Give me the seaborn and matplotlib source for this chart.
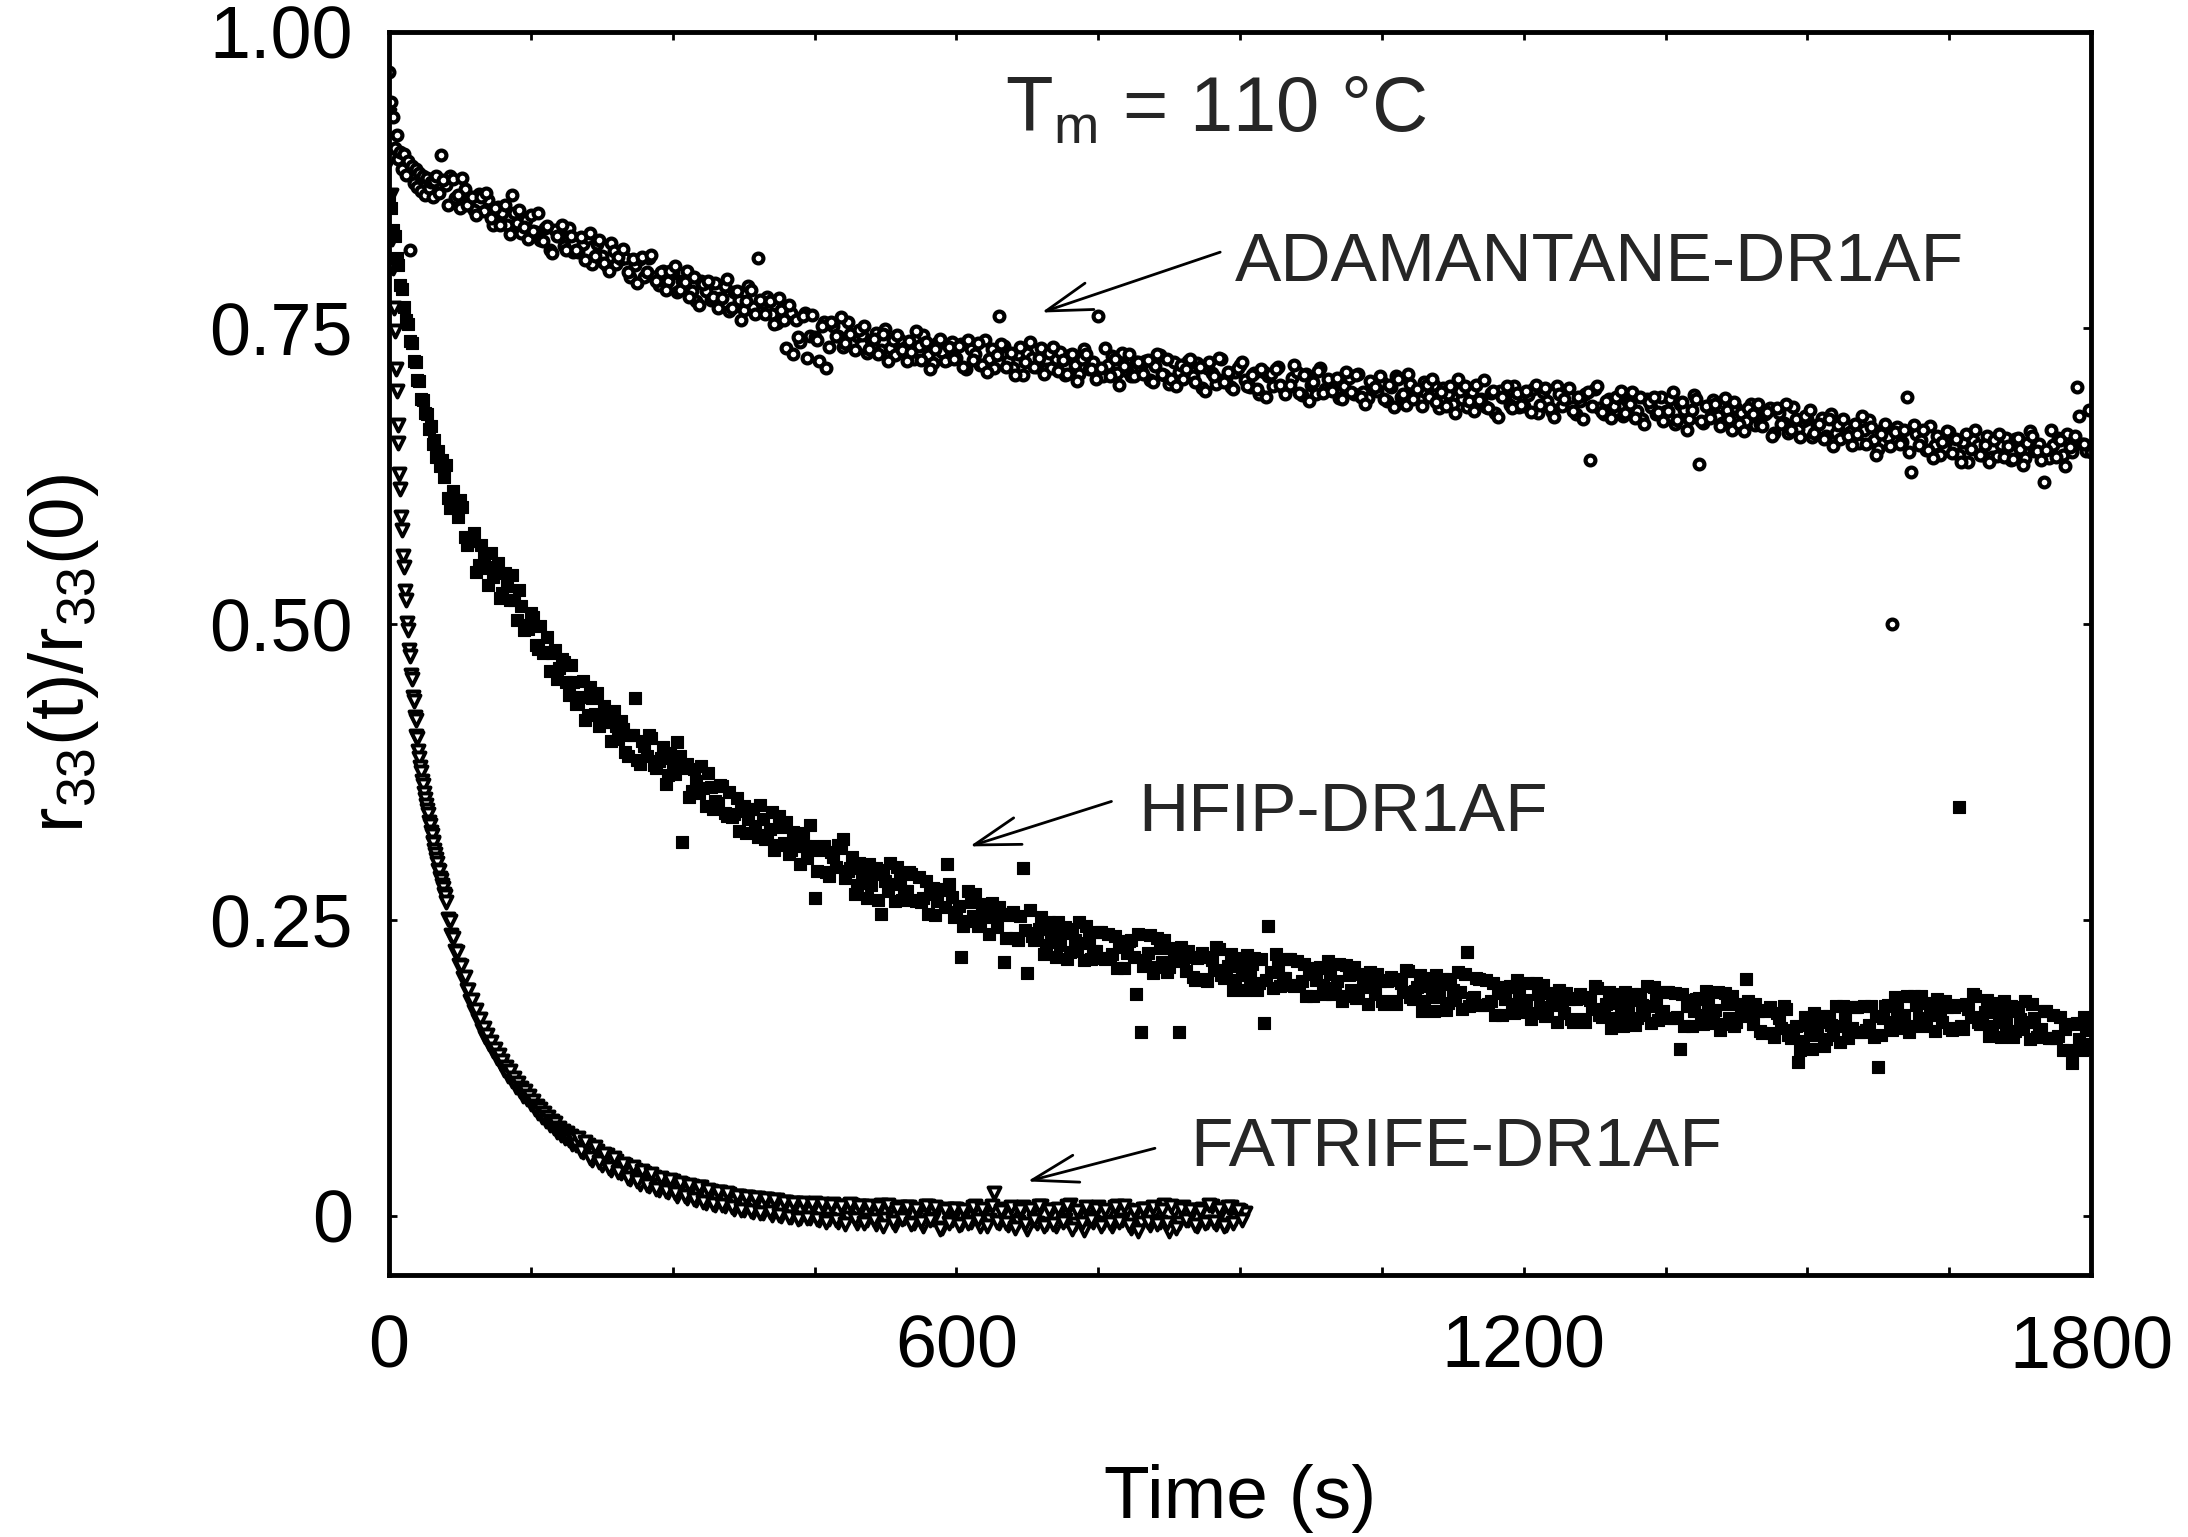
import numpy as np
import pandas as pd
import matplotlib
matplotlib.use("Agg")
import matplotlib.pyplot as plt
import matplotlib.ticker as mticker
import seaborn as sns

# --- Data: r33(t)/r33(0) versus time (s) ---
# ADAMANTANE-DR1AF (open circles)
ADAM_EARLY = [  # t = 0, 2, ..., 48 s
    .966, .941, .928, .902, .913, .893, .899, .884, .897, .879,
    .891, .816, .887, .872, .884, .869, .881, .866, .878, .862,
    .877, .868, .873, .861, .874,
]
ADAM_LATE = [  # t = 50, 55, ..., 1800 s
    .878, .896, .871, .878, .860, .851, .867, .858, .850, .863,
    .849, .858, .837, .852, .847, .837, .862, .839, .830, .841,
    .845, .831, .824, .834, .816, .833, .828, .819, .834, .814,
    .814, .821, .826, .804, .821, .811, .802, .822, .804, .808,
    .809, .793, .803, .808, .793, .809, .793, .786, .798, .790,
    .796, .780, .790, .798, .781, .773, .790, .781, .774, .788,
    .775, .785, .764, .780, .774, .765, .785, .768, .809, .771,
    .776, .762, .754, .765, .733, .763, .757, .738, .763, .743,
    .742, .722, .755, .734, .752, .743, .734, .755, .738, .743,
    .744, .729, .740, .746, .731, .749, .733, .727, .740, .733,
    .739, .724, .735, .744, .727, .720, .737, .730, .723, .738,
    .725, .736, .715, .732, .728, .719, .740, .724, .716, .760,
    .735, .722, .716, .728, .710, .729, .725, .717, .733, .715,
    .716, .724, .730, .710, .727, .719, .711, .732, .715, .721,
    .760, .709, .719, .726, .712, .729, .714, .709, .721, .715,
    .722, .706, .718, .727, .710, .703, .721, .713, .707, .722,
    .709, .720, .699, .716, .712, .703, .724, .708, .700, .713,
    .719, .706, .700, .712, .694, .713, .709, .701, .717, .699,
    .699, .708, .713, .693, .711, .702, .694, .716, .698, .704,
    .705, .691, .701, .708, .694, .711, .696, .691, .703, .697,
    .704, .688, .700, .709, .692, .685, .703, .695, .689, .704,
    .692, .702, .682, .699, .694, .686, .707, .690, .683, .696,
    .702, .690, .683, .695, .678, .697, .692, .685, .701, .683,
    .684, .693, .698, .678, .696, .688, .679, .701, .684, .690,
    .692, .677, .688, .694, .638, .698, .682, .677, .690, .684,
    .691, .676, .687, .696, .680, .673, .690, .683, .677, .692,
    .680, .690, .669, .686, .681, .673, .693, .635, .670, .683,
    .689, .676, .670, .681, .664, .682, .678, .671, .686, .668,
    .669, .677, .682, .661, .678, .670, .661, .683, .665, .671,
    .673, .658, .668, .674, .659, .677, .661, .656, .668, .662,
    .669, .653, .664, .672, .655, .648, .665, .658, .500, .666,
    .654, .692, .628, .660, .655, .647, .667, .651, .643, .656,
    .662, .649, .643, .654, .637, .655, .651, .643, .659, .641,
    .642, .651, .657, .638, .656, .648, .640, .663, .646, .652,
    .620, .640, .651, .657, .643, .660, .645, .700, .652, .646,
    .645,
]
ADAM_LATE_B = [  # t = 52.5, 57.5, ..., 1797.5 s
    .864, .875, .854, .876, .862, .877, .854, .861, .845, .861,
    .864, .843, .851, .837, .854, .829, .847, .850, .835, .825,
    .832, .847, .823, .836, .813, .828, .837, .816, .828, .816,
    .827, .807, .830, .811, .824, .805, .798, .815, .810, .817,
    .797, .808, .788, .810, .797, .812, .790, .797, .782, .798,
    .802, .782, .789, .776, .793, .769, .787, .790, .776, .767,
    .775, .791, .767, .781, .757, .773, .782, .762, .774, .762,
    .773, .753, .775, .757, .769, .728, .742, .760, .725, .761,
    .740, .752, .716, .755, .743, .759, .737, .745, .731, .748,
    .752, .732, .741, .728, .745, .722, .740, .744, .731, .722,
    .730, .747, .723, .738, .715, .732, .741, .722, .734, .724,
    .735, .717, .740, .723, .737, .719, .713, .732, .727, .736,
    .717, .729, .710, .734, .721, .738, .717, .725, .711, .729,
    .734, .714, .723, .711, .728, .705, .724, .728, .715, .707,
    .716, .733, .709, .724, .702, .718, .728, .709, .721, .711,
    .723, .704, .728, .711, .724, .707, .701, .719, .715, .724,
    .704, .717, .697, .721, .709, .725, .704, .713, .698, .716,
    .721, .701, .710, .698, .715, .692, .711, .715, .702, .694,
    .702, .719, .695, .710, .688, .704, .714, .695, .707, .697,
    .708, .690, .713, .696, .710, .692, .686, .705, .700, .709,
    .690, .702, .683, .707, .694, .711, .690, .698, .684, .702,
    .707, .687, .696, .684, .701, .678, .697, .701, .688, .680,
    .689, .706, .682, .697, .675, .692, .701, .682, .695, .685,
    .697, .679, .702, .685, .699, .682, .675, .694, .690, .699,
    .680, .692, .673, .696, .684, .701, .679, .688, .674, .692,
    .697, .678, .686, .674, .692, .669, .687, .692, .679, .671,
    .680, .696, .672, .687, .664, .681, .690, .671, .684, .674,
    .686, .667, .691, .673, .687, .669, .663, .682, .677, .686,
    .667, .679, .659, .682, .669, .686, .664, .673, .658, .676,
    .681, .661, .669, .656, .673, .650, .668, .673, .659, .651,
    .660, .676, .652, .666, .643, .660, .669, .650, .662, .652,
    .664, .645, .668, .651, .664, .647, .640, .659, .654, .663,
    .644, .656, .637, .660, .648, .664, .643, .651, .637, .655,
    .660, .641, .650, .639, .657, .634, .653, .659, .646, .638,
    .647, .664, .641, .655, .633, .649, .659, .676, .652, .681,
]

# HFIP-DR1AF (filled squares)
HFIP_EARLY = [  # t = 0, 2, ..., 58 s
    .862, .851, .833, .828, .809, .803, .786, .783, .768, .757,
    .753, .739, .737, .722, .721, .706, .705, .690, .689, .678,
    .677, .665, .667, .652, .655, .641, .646, .633, .638, .624,
]
HFIP_LATE = [  # t = 60, 65, ..., 1800 s
    .634, .598, .602, .605, .573, .570, .577, .550, .558, .533,
    .540, .551, .526, .532, .541, .503, .515, .499, .509, .482,
    .498, .476, .460, .478, .463, .468, .440, .451, .434, .452,
    .423, .437, .442, .417, .424, .401, .414, .418, .392, .406,
    .437, .382, .397, .406, .381, .384, .396, .372, .383, .400,
    .316, .382, .359, .367, .380, .346, .362, .350, .364, .340,
    .358, .339, .325, .346, .335, .344, .320, .335, .322, .341,
    .313, .328, .333, .309, .318, .297, .312, .330, .268, .309,
    .312, .287, .303, .313, .318, .291, .303, .279, .290, .268,
    .279, .294, .255, .283, .298, .266, .284, .274, .290, .267,
    .286, .268, .255, .277, .266, .276, .297, .269, .257, .219,
    .249, .265, .272, .248, .258, .238, .254, .261, .214, .254,
    .257, .233, .294, .205, .236, .239, .252, .229, .240, .219,
    .229, .244, .223, .233, .248, .216, .234, .224, .240, .218,
    .238, .221, .209, .232, .222, .233, .187, .155, .216, .237,
    .210, .226, .233, .210, .221, .155, .217, .224, .202, .218,
    .222, .198, .216, .227, .203, .208, .221, .199, .211, .191,
    .202, .218, .197, .163, .245, .192, .210, .201, .217, .195,
    .215, .198, .186, .209, .199, .210, .187, .204, .192, .213,
    .186, .203, .210, .188, .199, .179, .196, .204, .181, .198,
    .202, .179, .197, .208, .185, .190, .203, .181, .194, .173,
    .185, .200, .180, .191, .206, .175, .223, .184, .201, .178,
    .199, .181, .170, .193, .183, .194, .171, .188, .177, .197,
    .171, .187, .195, .173, .183, .164, .181, .188, .166, .183,
    .187, .164, .182, .194, .170, .175, .189, .167, .180, .160,
    .171, .187, .167, .178, .194, .163, .182, .172, .189, .167,
    .188, .141, .160, .182, .173, .184, .162, .179, .168, .189,
    .162, .179, .186, .164, .174, .200, .171, .179, .156, .173,
    .176, .151, .167, .177, .153, .157, .130, .148, .161, .141,
    .153, .169, .149, .161, .177, .147, .166, .158, .176, .155,
    .177, .161, .151, .126, .167, .178, .157, .175, .164, .186,
    .160, .178, .186, .164, .175, .156, .173, .181, .159, .176,
    .345, .158, .175, .187, .164, .168, .182, .160, .172, .151,
    .162, .177, .156, .166, .181, .149, .167, .157, .173, .150,
    .170, .152, .140, .162, .129, .163, .140, .157, .145,
]
HFIP_LATE_B = [  # t = 62.5, 67.5, ..., 1797.5 s
    .606, .612, .590, .599, .567, .570, .544, .567, .547, .560,
    .548, .522, .543, .520, .520, .529, .495, .496, .506, .479,
    .475, .489, .475, .453, .470, .451, .465, .432, .438, .419,
    .447, .424, .414, .431, .417, .426, .403, .411, .388, .406,
    .385, .401, .388, .404, .378, .387, .365, .391, .373, .388,
    .378, .354, .377, .357, .361, .374, .344, .349, .363, .338,
    .337, .353, .342, .323, .344, .329, .347, .318, .327, .309,
    .338, .315, .306, .324, .312, .323, .302, .312, .291, .310,
    .290, .307, .295, .311, .285, .294, .272, .298, .281, .297,
    .289, .267, .292, .274, .280, .295, .267, .274, .289, .266,
    .265, .283, .272, .254, .275, .261, .280, .252, .262, .245,
    .274, .253, .245, .263, .252, .264, .244, .255, .235, .255,
    .235, .253, .241, .258, .233, .242, .221, .248, .231, .248,
    .239, .217, .242, .224, .230, .245, .217, .224, .240, .217,
    .218, .236, .227, .209, .232, .219, .238, .211, .222, .205,
    .235, .214, .206, .226, .215, .227, .207, .219, .199, .219,
    .200, .219, .208, .225, .201, .211, .191, .218, .203, .220,
    .213, .191, .217, .199, .206, .221, .194, .201, .217, .194,
    .195, .213, .204, .186, .209, .195, .215, .187, .198, .181,
    .212, .191, .184, .204, .193, .206, .187, .198, .179, .199,
    .181, .200, .189, .207, .183, .193, .173, .201, .185, .203,
    .196, .174, .200, .182, .189, .204, .177, .185, .200, .178,
    .179, .197, .188, .170, .193, .179, .199, .172, .182, .166,
    .197, .176, .169, .188, .178, .191, .171, .183, .164, .184,
    .166, .185, .175, .192, .168, .179, .159, .187, .171, .189,
    .182, .161, .187, .170, .177, .193, .165, .173, .189, .167,
    .168, .187, .177, .160, .183, .170, .190, .163, .174, .157,
    .188, .167, .160, .179, .169, .181, .162, .173, .154, .174,
    .154, .171, .159, .175, .150, .160, .140, .168, .153, .171,
    .164, .143, .169, .153, .160, .177, .150, .159, .176, .155,
    .157, .177, .169, .153, .177, .164, .185, .159, .170, .155,
    .186, .167, .160, .180, .170, .183, .164, .176, .157, .178,
    .160, .179, .168, .186, .162, .172, .152, .180, .164, .181,
    .173, .151, .176, .158, .164, .179, .151, .158, .173, .150,
    .150, .168, .158, .140, .162, .149, .168, .141,
]

# FATRIFE-DR1AF (open down triangles)
FATRIFE_EARLY = [  # t = 0, 1, ..., 59 s
    .930, .893, .862, .825, .801, .767, .747, .715, .697, .668,
    .653, .627, .614, .590, .579, .557, .548, .528, .520, .501,
    .495, .478, .473, .457, .453, .438, .435, .421, .419, .405,
    .404, .393, .387, .379, .375, .367, .364, .357, .352, .347,
    .343, .339, .333, .330, .324, .322, .316, .315, .309, .306,
    .301, .298, .292, .291, .285, .284, .279, .277, .272, .270,
]
FATRIFE_MID = [  # t = 60, 62, ..., 198 s
    .265, .251, .249, .237, .235, .224, .223, .212, .211, .201,
    .202, .191, .191, .181, .182, .173, .174, .165, .166, .157,
    .159, .151, .153, .145, .147, .139, .141, .133, .136, .128,
    .131, .123, .126, .118, .122, .114, .116, .109, .112, .105,
    .108, .101, .105, .099, .101, .094, .097, .090, .093, .087,
    .090, .083, .087, .080, .083, .077, .080, .074, .078, .071,
    .074, .068, .072, .066, .070, .064, .067, .061, .065, .060,
]
FATRIFE_LATE = [  # t = 200, 205, ..., 905 s
    .066, .054, .060, .047, .055, .043, .051, .039, .046, .036,
    .043, .031, .039, .027, .036, .025, .033, .022, .030, .020,
    .029, .017, .027, .015, .025, .013, .024, .011, .021, .009,
    .020, .008, .018, .006, .017, .005, .016, .003, .015, .002,
    .014, .001, .013, .000, .012, -.001, .011, -.002, .010, -.002,
    .011, -.004, .009, -.003, .010, -.005, .008, -.002, .009, -.006,
    .008, -.004, .007, -.007, .009, -.003, .006, -.008, .007, -.002,
    .007, -.006, .005, -.009, .008, -.003, .006, -.010, .006, -.004,
    .006, -.007, .004, -.005, .008, -.009, .005, -.004, .019, -.006,
    .006, -.008, .003, -.005, .007, -.011, .004, -.006, .008, -.007,
    .005, -.009, .004, -.004, .009, -.007, .003, -.012, .006, -.005,
    .007, -.006, .002, -.009, .008, -.004, .005, -.010, .004, -.006,
    .006, -.008, .003, -.005, .009, -.013, .004, -.006, .007, -.004,
    .005, -.009, .006, -.005, .008, -.007, .003, -.008, .007, -.003,
    .004, .002,
]
FATRIFE_LATE_B = [  # t = 202.5, 207.5, ..., 902.5 s
    .055, .062, .049, .058, .045, .052, .040, .049, .037, .044,
    .032, .041, .029, .038, .026, .035, .023, .032, .021, .030,
    .019, .028, .017, .026, .014, .024, .012, .022, .010, .020,
    .009, .019, .007, .017, .005, .016, .004, .015, .002, .014,
    .003, .013, .001, .012, -.001, .011, -.003, .011, -.002, .010,
    -.003, .010, -.005, .009, -.004, .008, -.007, .010, -.003, .008,
    -.006, .008, -.004, .007, -.009, .009, -.005, .006, -.003, .007,
    -.007, .006, -.005, .008, -.004, .007, -.011, .005, -.006, .006,
    -.008, .005, -.006, .007, -.004, .006, -.009, .008, -.005, .004,
    -.006, .007, -.010, .005, -.007, .006, -.004, .008, -.009, .005,
    -.007, .006, -.005, .008, -.011, .004, -.006, .007, -.004, .006,
    -.009, .005, -.006, .007, -.005, .008, -.008, .004, -.013, .006,
    -.005, .007, -.007, .005, -.006, .008, -.010, .006, -.004, .005,
    -.008, .004, -.006, .009, -.005, .006, -.009, .007, -.006, .005,
    -.004,
]


def build_series(name, segments):
    """segments: list of (start time, time step, values)."""
    parts = []
    for start, step, vals in segments:
        t = start + step * np.arange(len(vals))
        parts.append(pd.DataFrame({"time": t, "ratio": vals, "sample": name}))
    return pd.concat(parts, ignore_index=True)


adam = build_series("ADAMANTANE-DR1AF", [(0, 2, ADAM_EARLY), (50, 5, ADAM_LATE),
                                         (52.5, 5, ADAM_LATE_B)])
hfip = build_series("HFIP-DR1AF", [(0, 2, HFIP_EARLY), (60, 5, HFIP_LATE),
                                   (62.5, 5, HFIP_LATE_B)])
fatrife = build_series("FATRIFE-DR1AF", [(0, 1, FATRIFE_EARLY), (60, 2, FATRIFE_MID),
                                         (200, 5, FATRIFE_LATE),
                                         (202.5, 5, FATRIFE_LATE_B)])

# --- Style ---
sns.set_theme(style="ticks")
plt.rcParams["font.family"] = ["Liberation Sans", "DejaVu Sans"]
plt.rcParams["mathtext.fontset"] = "custom"
plt.rcParams["mathtext.rm"] = "Liberation Sans"
plt.rcParams["mathtext.it"] = "Liberation Sans:italic"
plt.rcParams["mathtext.default"] = "regular"

fig = plt.figure(figsize=(21.88, 15.37), dpi=100)
ax = fig.add_axes([0.1778, 0.1705, 0.7779, 0.8087])

sns.scatterplot(data=fatrife, x="time", y="ratio", ax=ax, marker="v", s=75,
                color="white", edgecolor="black", linewidth=2.8, legend=False)
sns.scatterplot(data=hfip, x="time", y="ratio", ax=ax, marker="s", s=85,
                color="black", edgecolor="black", linewidth=0.8, legend=False)
sns.scatterplot(data=adam, x="time", y="ratio", ax=ax, marker="o", s=50,
                color="white", edgecolor="black", linewidth=3.0, legend=False)

ax.set_xlim(0, 1800)
ax.set_ylim(-0.05, 1.0)
ax.set_xticks([0, 600, 1200, 1800])
ax.xaxis.set_minor_locator(mticker.MultipleLocator(150))
ax.set_yticks([0, 0.25, 0.5, 0.75, 1.0])
ax.set_yticklabels(["0", "0.25", "0.50", "0.75", "1.00"])

ax.tick_params(which="both", direction="in", top=True, right=True,
               length=6, width=2, color="black", labelsize=53, labelcolor="black")
ax.tick_params(axis="x", which="both", pad=28)
ax.tick_params(axis="y", which="both", pad=26)
for side in ax.spines.values():
    side.set_visible(True)
    side.set_linewidth(3.5)
    side.set_color("black")

ax.set_xlabel("Time (s)", fontsize=54, color="black")
ax.xaxis.set_label_coords(0.5, -0.152)
ax.set_ylabel(r"r$_{33}$(t)/r$_{33}$(0)", fontsize=55, color="black")
ax.yaxis.set_label_coords(-0.169, 0.5)

# --- Annotations ---
ax.text(651, 0.916, r"T$_{m}$ = 110 °C", fontsize=56, ha="left", va="baseline")

arrow = dict(arrowstyle="->, head_length=0.66, head_width=0.2", color="black",
             lw=2, shrinkA=0, shrinkB=0, mutation_scale=50)
labels = [
    ("ADAMANTANE-DR1AF", (690, 0.763), (879, 0.814), (894, 0.805)),
    ("HFIP-DR1AF", (614, 0.312), (764, 0.350), (792, 0.340)),
    ("FATRIFE-DR1AF", (675, 0.029), (810, 0.057), (847, 0.057)),
]
for name, tip, tail, pos in labels:
    ax.annotate("", xy=tip, xytext=tail, arrowprops=arrow)
    ax.text(pos[0], pos[1], name, fontsize=50, ha="left", va="center")

fig.savefig("out.png", dpi=100)
